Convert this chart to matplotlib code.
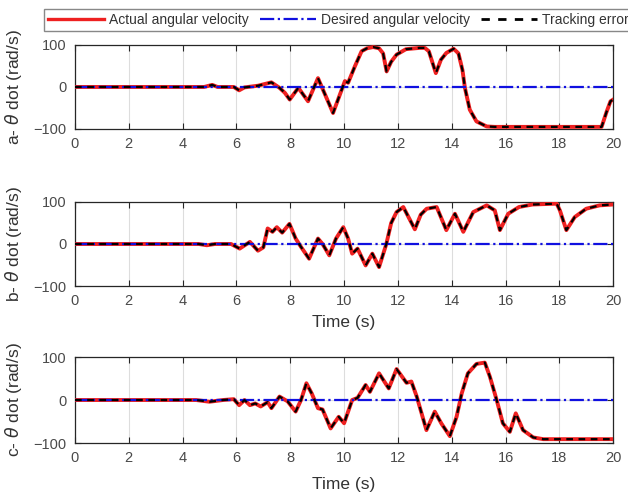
import numpy as np
import matplotlib
matplotlib.use("Agg")
import matplotlib.pyplot as plt
from matplotlib.lines import Line2D

plt.rcParams['font.family'] = ['Liberation Sans', 'DejaVu Sans']

# Panel a - angular velocity (rad/s) vs time (s)
t_a = [0, 4.8, 5.1, 5.3, 5.9, 6.1, 6.3, 6.8, 7.3, 7.6, 7.8, 7.98, 8.3, 8.66, 9.03,
       9.59, 10.03, 10.15, 10.4, 10.65, 10.85, 11.08, 11.3, 11.45, 11.58, 11.75, 11.95,
       12.3, 12.8, 13.0, 13.15, 13.41, 13.6, 13.8, 14.07, 14.25, 14.4, 14.49, 14.67,
       14.92, 15.3, 15.6, 19.57, 19.75, 19.9, 20]
v_a = [0, 0, 5, 0, 0, -8, -1, 3, 11, -2, -14, -30, -2, -34, 21,
       -62, 14, 10, 49, 85, 92, 95, 92, 80, 37, 60, 77,
       90, 93, 93, 85, 33, 65, 81, 91, 80, 40, -2, -54,
       -82, -94, -95, -95, -60, -34, -30]

# Panel b
t_b = [0, 4.6, 4.9, 5.2, 5.8, 6.12, 6.5, 6.8, 7.0, 7.16, 7.34, 7.5, 7.7, 7.97, 8.2,
       8.4, 8.7, 9.03, 9.2, 9.45, 9.7, 9.97, 10.15, 10.3, 10.5, 10.8, 11.05, 11.3,
       11.57, 11.75, 11.95, 12.2, 12.63, 12.85, 13.07, 13.44, 13.8, 14.12, 14.43,
       14.8, 15.3, 15.6, 15.79, 16.1, 16.5, 17.0, 17.9, 18.02, 18.26, 18.57, 19.0,
       19.5, 20]
v_b = [0, 0, -3, 0, 0, -11, 5, -16, -8, 37, 29, 40, 27, 48, 13,
       -7, -35, 13, 0, -27, 13, 40, 13, -23, -11, -51, -23, -55,
       0, 50, 76, 88, 35, 70, 84, 88, 33, 72, 29,
       76, 92, 80, 33, 72, 88, 94, 96, 80, 33, 64, 84,
       92, 94]

# Panel c
t_c = [0, 4.5, 5.0, 5.5, 5.9, 6.1, 6.3, 6.5, 6.7, 6.9, 7.16, 7.3, 7.6, 7.9, 8.2,
       8.4, 8.6, 8.8, 9.03, 9.2, 9.5, 9.8, 10.0, 10.3, 10.5, 10.8, 10.96, 11.3,
       11.66, 11.95, 12.32, 12.5, 12.7, 13.06, 13.37, 13.62, 13.93, 14.18, 14.37,
       14.6, 14.92, 15.23, 15.42, 15.67, 15.9, 16.16, 16.38, 16.65, 17.03, 17.4, 20]
v_c = [0, 0, -4, 0, 2, -12, 0, -12, -8, -15, -5, -19, 8, -3, -27,
       0, 39, 15, -19, -22, -66, -39, -54, 0, 5, 35, 19, 62,
       27, 72, 40, 43, 8, -70, -27, -55, -84, -39, 15,
       62, 84, 87, 54, 0, -54, -74, -31, -70, -87, -91, -91]

# desired angular velocity is zero over the whole run
t_des = [0, 20]
v_des = [0, 0]

panels = [(t_a, v_a, 'a- $\\theta$ dot (rad/s)'),
          (t_b, v_b, 'b- $\\theta$ dot (rad/s)'),
          (t_c, v_c, 'c- $\\theta$ dot (rad/s)')]

# axes boxes in figure fractions (left, bottom, width, height)
boxes = [(0.1194, 0.741, 0.857, 0.1687),
         (0.1194, 0.4257, 0.857, 0.1687),
         (0.1194, 0.1104, 0.857, 0.1727)]

fig = plt.figure(figsize=(6.28, 4.98), dpi=100)

for i, (t, v, ylab) in enumerate(panels):
    ax = fig.add_axes(boxes[i])
    ax.plot(t, v, color='#ee2020', lw=2.8, solid_joinstyle='round', zorder=3)
    ax.plot(t_des, v_des, color='#1010e0', lw=1.6, linestyle='-.', zorder=4)
    ax.plot(t, v, color='black', lw=1.6, linestyle=(0, (3, 2.5)), zorder=5)

    ax.set_xlim(0, 20)
    ax.set_ylim(-100, 100)
    ax.set_xticks(np.arange(0, 21, 2))
    ax.set_yticks([-100, 0, 100])
    ax.grid(True, color='#dddddd', lw=0.8)
    ax.set_axisbelow(True)
    ax.tick_params(direction='in', top=True, right=True, length=4, width=0.8,
                   colors='#262626', labelcolor='#4a4a4a', labelsize=10.5, pad=6)
    for s in ax.spines.values():
        s.set_color('#262626')
        s.set_linewidth(0.9)

    ax.set_ylabel(ylab, fontsize=12.5, color='#333333')
    ax.yaxis.set_label_coords(-0.095, 0.5)
    if i == 1:
        ax.set_xlabel('Time (s)', fontsize=12.5, color='#333333')
        ax.xaxis.set_label_coords(0.5, -0.34)
    if i == 2:
        ax.set_xlabel('Time (s)', fontsize=12.5, color='#333333')
        ax.xaxis.set_label_coords(0.5, -0.40)

handles = [Line2D([0], [0], color='#ee2020', lw=2.4),
           Line2D([0], [0], color='#1010e0', lw=1.6, linestyle='-.'),
           Line2D([0], [0], color='black', lw=2.0, linestyle=(0, (3, 3)))]
labels = ['Actual angular velocity', 'Desired angular velocity', 'Tracking error']
fig.legend(handles, labels, loc='upper left', bbox_to_anchor=(44 / 628, 1 - 9 / 498),
           ncol=3, fontsize=10, frameon=True, fancybox=False, edgecolor='#888888',
           framealpha=1, borderaxespad=0, borderpad=0.3, handlelength=4.0,
           handletextpad=0.4, columnspacing=0.8, labelcolor='#333333')

fig.savefig('out.png', dpi=100)
